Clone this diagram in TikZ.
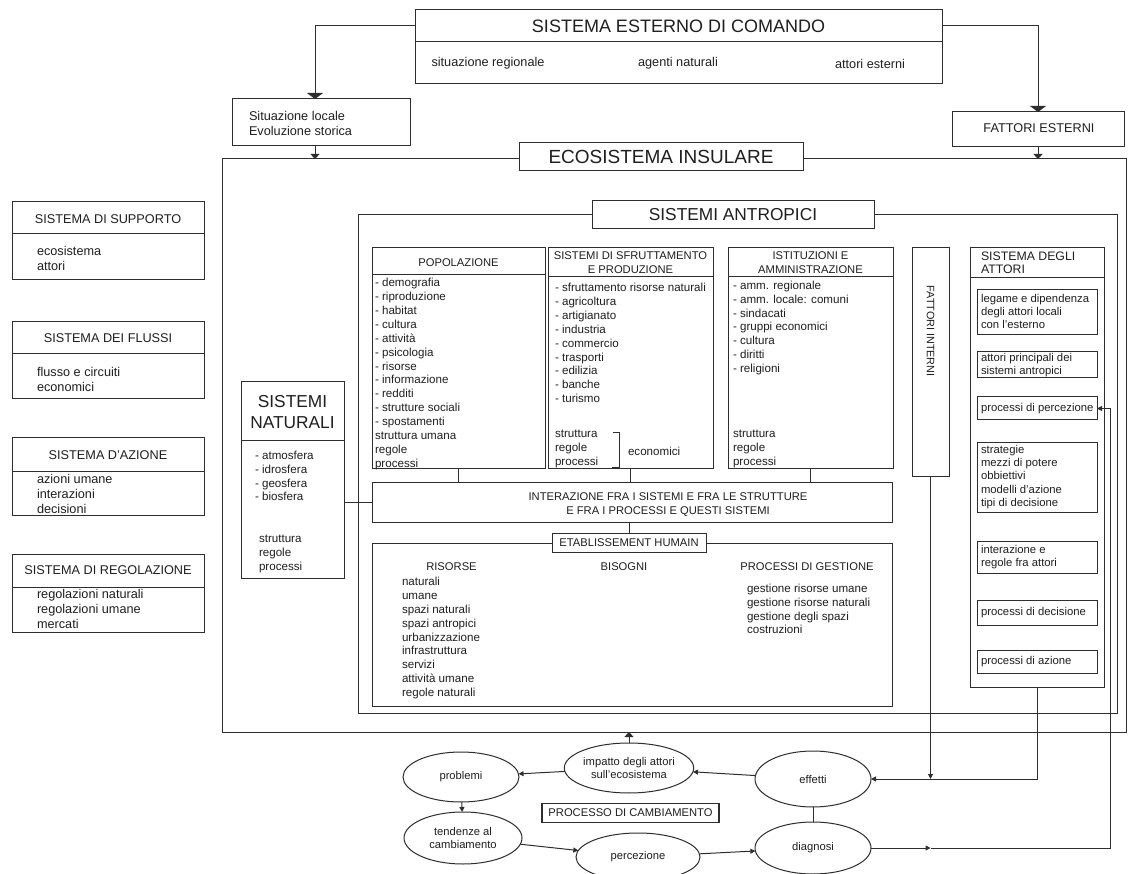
\documentclass[tikz,border=0pt]{standalone}
\usepackage{fontspec}
\setmainfont{Liberation Sans}
\usetikzlibrary{shapes.geometric, arrows.meta}
\newcommand\bodyf{\fontsize{11.6}{13.9}\selectfont}
\newcommand\attf{\fontsize{11.3}{13.4}\selectfont}
\newcommand\headf{\fontsize{11.2}{12.5}\selectfont}
\newcommand\headtf{\fontsize{11.2}{13.8}\selectfont}
\newcommand\intf{\fontsize{11.2}{14.5}\selectfont}
\newcommand\ellf{\fontsize{11.2}{13.5}\selectfont}
\newcommand\lfont{\fontsize{12.7}{15}\selectfont}
\newcommand\atthf{\fontsize{12.3}{12.5}\selectfont}
\newcommand\bigf{\fontsize{18}{21}\selectfont}
\newcommand\ecof{\fontsize{19}{22}\selectfont}
\newcommand\midf{\fontsize{17.3}{21}\selectfont}
\newcommand\vfont{\fontsize{10.8}{12}\selectfont}
\begin{document}
\begin{tikzpicture}[x=1pt,y=-1pt,
 ln/.style={line width=1pt, draw=black!82},
 box/.style={ln, rectangle, inner sep=0pt, outer sep=0pt, anchor=north west},
 tx/.style={inner sep=0pt, outer sep=0pt, align=left, text=black!88, font=\bodyf},
 ell/.style={ln, ellipse, inner sep=0pt, outer sep=0pt, align=center, text=black!88, font=\ellf},
 big/.style={-{Triangle[width=16pt,length=6pt]}},
 arr/.style={-{Triangle[width=9pt,length=5pt]}},
 sarr/.style={-{Triangle[width=5pt,length=5pt]}},
]
\useasboundingbox[fill=white] (0,0) rectangle (1128,874);

% ---------- top
\node[box, minimum width=527pt, minimum height=74pt] (top) at (415,10) {};
\draw[ln] (top.west |- 0,42) -- (top.east |- 0,42);
\node[tx, font=\bigf] (toptitle) at (678.5,26.5) {SISTEMA ESTERNO DI COMANDO};
\node[tx, font=\lfont] (sr) at (488,63) {situazione regionale};
\node[tx, font=\lfont] (an) at (678,63) {agenti naturali};
\node[tx, font=\lfont] (ae) at (870,64) {attori esterni};

\node[box, minimum width=178pt, minimum height=47pt] (sitloc) at (232,99) {};
\node[tx, font=\lfont, anchor=west] (sitloct) at (249,123) {Situazione locale\\Evoluzione storica};
\node[box, minimum width=172pt, minimum height=35pt] (fattest) at (952,112) {};
\node[tx, font=\lfont] (fattestt) at (1039,128) {FATTORI ESTERNI};

\draw[ln, big] (top.west |- 0,26) -| ([xshift=-6pt]sitloc.north);
\draw[ln, big] (top.east |- 0,26) -| (fattest.north);

% ---------- ecosistema
\node[box, minimum width=904pt, minimum height=573pt] (eco) at (222,159) {};
\node[box, anchor=center, fill=white, minimum width=284pt, minimum height=28pt, font=\ecof, text=black!88] (ecot) at (661,157) {ECOSISTEMA INSULARE};
\draw[ln, arr] ([xshift=-6pt]sitloc.south) -- ([xshift=-6pt]sitloc.south |- eco.north);
\draw[ln, arr] (fattest.south) -- (fattest.south |- eco.north);

% ---------- left column
\node[box, minimum width=192pt, minimum height=78pt] (s1) at (12,202) {};
\draw[ln] (s1.west |- 0,234) -- (s1.east |- 0,234);
\node[tx, font=\lfont] (s1t) at (108,219) {SISTEMA DI SUPPORTO};
\node[tx, font=\lfont, anchor=west] (s1l) at (37,258.5) {ecosistema\\attori};

\node[box, minimum width=192pt, minimum height=77pt] (s2) at (12,322) {};
\draw[ln] (s2.west |- 0,354) -- (s2.east |- 0,354);
\node[tx, font=\lfont] (s2t) at (108,338) {SISTEMA DEI FLUSSI};
\node[tx, font=\lfont, anchor=west] (s2l) at (37,379.5) {flusso e circuiti\\economici};

\node[box, minimum width=192pt, minimum height=78pt] (s3) at (12,438) {};
\draw[ln] (s3.west |- 0,472) -- (s3.east |- 0,472);
\node[tx, font=\lfont] (s3t) at (108,455) {SISTEMA D'AZIONE};
\node[tx, font=\lfont, anchor=west] (s3l) at (37,494) {azioni umane\\interazioni\\decisioni};

\node[box, minimum width=192pt, minimum height=78pt] (s4) at (12,554) {};
\draw[ln] (s4.west |- 0,587) -- (s4.east |- 0,587);
\node[tx, font=\lfont] (s4t) at (108,570.5) {SISTEMA DI REGOLAZIONE};
\node[tx, font=\lfont, anchor=west] (s4l) at (37,609) {regolazioni naturali\\regolazioni umane\\mercati};

% ---------- sistemi antropici
\node[box, minimum width=759pt, minimum height=498pt] (antro) at (358,215) {};
\node[box, anchor=center, fill=white, minimum width=282pt, minimum height=28pt, font=\midf, text=black!88] (antrot) at (733,215) {SISTEMI ANTROPICI};

% popolazione
\node[box, minimum width=173pt, minimum height=221pt] (pop) at (372,248) {};
\draw[ln] (pop.west |- 0,275) -- (pop.east |- 0,275);
\node[tx, font=\headf] (popt) at (458.5,263) {POPOLAZIONE};
\node[tx, anchor=west] (popl) at (375,374) {- demografia\\- riproduzione\\- habitat\\- cultura\\- attività\\- psicologia\\- risorse\\- informazione\\- redditi\\- strutture sociali\\- spostamenti\\struttura umana\\regole\\processi};

% sfruttamento
\node[box, minimum width=165pt, minimum height=221pt] (sfr) at (548,248) {};
\draw[ln] (sfr.west |- 0,277) -- (sfr.east |- 0,277);
\node[tx, font=\headtf, align=center] (sfrt) at (630.5,262.5) {SISTEMI DI SFRUTTAMENTO\\E PRODUZIONE};
\node[tx, anchor=west] (sfrl) at (555,343) {- sfruttamento risorse naturali\\- agricoltura\\- artigianato\\- industria\\- commercio\\- trasporti\\- edilizia\\- banche\\- turismo};
\node[tx, anchor=west] (sfrs) at (555,449) {struttura\\regole\\processi};
\draw[ln, line width=0.8pt] (613,432) -- (619,432) -- (619,467) -- (612,467);
\node[tx, anchor=west] (ecoq) at (628,451) {economici};

% istituzioni
\node[box, minimum width=165pt, minimum height=221pt] (ist) at (728,248) {};
\draw[ln] (ist.west |- 0,277) -- (ist.east |- 0,277);
\node[tx, font=\headtf, align=center] (istt) at (810.5,262.5) {ISTITUZIONI E\\AMMINISTRAZIONE};
\node[tx, anchor=west] (istl) at (733,328) {- amm. regionale\\- amm. locale: comuni\\- sindacati\\- gruppi economici\\- cultura\\- diritti\\- religioni};
\node[tx, anchor=west] (ists) at (733,449) {struttura\\regole\\processi};

% fattori interni
\node[box, minimum width=37pt, minimum height=229pt] (fi) at (912,248) {};
\node[tx, font=\vfont, rotate=-90] (fit) at (930.5,331) {FATTORI INTERNI};

% sistema degli attori
\node[box, minimum width=134pt, minimum height=439pt] (att) at (970,248) {};
\draw[ln] (att.west |- 0,278) -- (att.east |- 0,278);
\node[tx, font=\atthf, anchor=west] (attt) at (981,263) {SISTEMA DEGLI\\ATTORI};
\node[box, minimum width=120pt, minimum height=45pt] (a1) at (977,290) {};
\node[tx, font=\attf, anchor=west] (a1t) at (981,311.5) {legame e dipendenza\\degli attori locali\\con l'esterno};
\node[box, minimum width=120pt, minimum height=26pt] (a2) at (977,352) {};
\node[tx, font=\attf, anchor=west] (a2t) at (981,365) {attori principali dei\\sistemi antropici};
\node[box, minimum width=120pt, minimum height=23pt] (a3) at (977,397) {};
\node[tx, font=\attf, anchor=west] (a3t) at (981,408.5) {processi di percezione};
\node[box, minimum width=120pt, minimum height=70pt] (a4) at (977,443) {};
\node[tx, font=\attf, anchor=west] (a4t) at (981,477) {strategie\\mezzi di potere\\obbiettivi\\modelli d'azione\\tipi di decisione};
\node[box, minimum width=120pt, minimum height=31pt] (a5) at (977,542) {};
\node[tx, font=\attf, anchor=west] (a5t) at (981,557) {interazione e\\regole fra attori};
\node[box, minimum width=120pt, minimum height=25pt] (a6) at (977,600) {};
\node[tx, font=\attf, anchor=west] (a6t) at (981,612.5) {processi di decisione};
\node[box, minimum width=120pt, minimum height=23pt] (a7) at (977,650) {};
\node[tx, font=\attf, anchor=west] (a7t) at (981,661.5) {processi di azione};

% sistemi naturali
\node[box, minimum width=103pt, minimum height=196pt] (nat) at (241,382) {};
\draw[ln] (nat.west |- 0,441) -- (nat.east |- 0,441);
\node[tx, font=\midf, align=center] (natt) at (292.5,412.5) {SISTEMI\\NATURALI};
\node[tx, anchor=west] (natl) at (255,476) {- atmosfera\\- idrosfera\\- geosfera\\- biosfera};
\node[tx, anchor=west] (nats) at (259,554) {struttura\\regole\\processi};

% interazione
\node[box, minimum width=520pt, minimum height=40pt] (int) at (372,483) {};
\node[tx, font=\intf, align=center] (intt) at (668,504.5) {INTERAZIONE FRA I SISTEMI E FRA LE STRUTTURE\\E FRA I PROCESSI E QUESTI SISTEMI};
\draw[ln] (pop.south) -- (pop.south |- int.north);
\draw[ln] (sfr.south) -- (sfr.south |- int.north);
\draw[ln] (ist.south) -- (ist.south |- int.north);
\draw[ln] (nat.east |- int.west) -- (int.west);

% etablissement humain
\node[box, minimum width=520pt, minimum height=162pt] (etab) at (372,544) {};
\node[box, anchor=center, fill=white, minimum width=154pt, minimum height=19pt, font=\headf, text=black!88] (ett) at (629,543) {ETABLISSEMENT HUMAIN};
\draw[ln] (ett.north |- int.south) -- (ett.north);
\node[tx, font=\headf] (ris) at (451.5,567) {RISORSE};
\node[tx, font=\headf] (bis) at (624,567) {BISOGNI};
\node[tx, font=\headf] (pdg) at (807,567) {PROCESSI DI GESTIONE};
\node[tx, anchor=west] (risl) at (402,638) {naturali\\umane\\spazi naturali\\spazi antropici\\urbanizzazione\\infrastruttura\\servizi\\attività umane\\regole naturali};
\node[tx, anchor=west] (pdgl) at (747,609) {gestione risorse umane\\gestione risorse naturali\\gestione degli spazi\\costruzioni};

% ---------- processo di cambiamento
\node[ell, minimum width=122pt, minimum height=50pt] (imp) at (629,768) {impatto degli attori\\sull'ecosistema};
\node[ell, minimum width=116pt, minimum height=50pt] (prob) at (461,777) {problemi};
\node[ell, minimum width=116pt, minimum height=56pt] (eff) at (813,779) {effetti};
\node[ell, minimum width=118pt, minimum height=52pt] (tend) at (463,838) {tendenze al\\cambiamento};
\node[ell, minimum width=124pt, minimum height=48pt] (perc) at (638,857) {percezione};
\node[ell, minimum width=116pt, minimum height=52pt] (diag) at (813,848) {diagnosi};
\node[box, anchor=center, line width=1.2pt, minimum width=177pt, minimum height=19pt, font=\headf, text=black!88] (proc) at (630.5,813) {PROCESSO DI CAMBIAMENTO};

\draw[ln, arr] (imp.north) -- (imp.north |- eco.south);
\draw[ln, sarr] (imp) -- (prob);
\draw[ln, sarr] (eff) -- (imp);
\draw[ln, sarr] (prob) -- (tend);
\draw[ln, sarr] (tend) -- (perc);
\draw[ln, sarr] (perc) -- (diag);
\draw[ln] (eff) -- (diag);

% ---------- feedback connectors
\coordinate (fb) at (diag.east -| 1110,0);
\draw[ln, sarr] (att.south) |- (eff.east);
\draw[ln, sarr] (fi.south) -- (fi.south |- eff.east);
\draw[ln, sarr] (diag.east) -- (diag.east -| fi.south);
\draw[ln, sarr] (diag.east -| fi.south) -- (fb) |- (a3.east);
\end{tikzpicture}
\end{document}
